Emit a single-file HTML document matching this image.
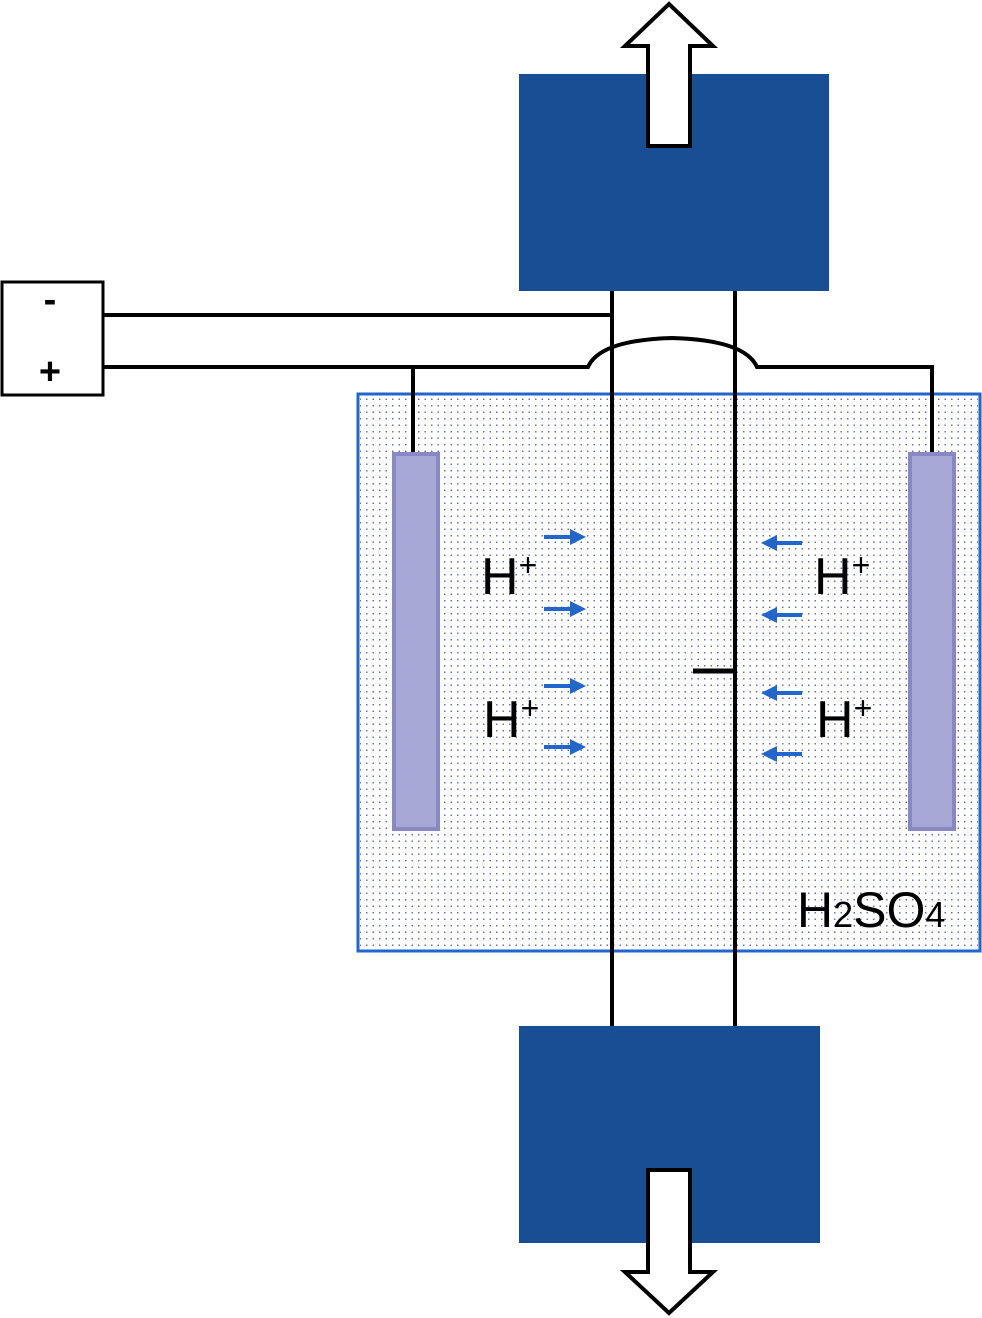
<!DOCTYPE html>
<html><head><meta charset="utf-8"><style>html,body{margin:0;padding:0;background:#fff}svg{display:block}</style></head>
<body>
<svg width="982" height="1318" viewBox="0 0 982 1318" xmlns="http://www.w3.org/2000/svg">
<defs>
<pattern id="dots" x="0" y="0" width="6.5" height="6.5" patternUnits="userSpaceOnUse">
<rect x="2" y="2" width="1.5" height="1.5" fill="#7070b8"/>
</pattern>
<marker id="ah" markerWidth="4" markerHeight="4" refX="2" refY="2" orient="auto" markerUnits="strokeWidth">
<path d="M0,0 L4,2 L0,4 Z" fill="#2266cc"/>
</marker>
</defs>
<rect x="358" y="394" width="622" height="557" fill="#fff" stroke="#2266cc" stroke-width="3"/>
<rect x="360" y="396" width="618" height="553" fill="url(#dots)"/>
<rect x="519" y="74" width="310" height="217" fill="#184e94"/>
<rect x="519" y="1026" width="301" height="217" fill="#184e94"/>
<path d="M648,146 L648,46 L625,46 L669,4 L713,46 L690,46 L690,146 Z" fill="#fff" stroke="#000" stroke-width="4"/>
<path d="M648,1170 L648,1272 L625,1272 L669,1313 L713,1272 L690,1272 L690,1170 Z" fill="#fff" stroke="#000" stroke-width="4"/>
<rect x="2" y="282" width="101" height="113" fill="#fff" stroke="#000" stroke-width="3"/>
<text x="50" y="312" font-family="Liberation Sans, sans-serif" font-size="38" font-weight="bold" text-anchor="middle">-</text>
<text x="50" y="384" font-family="Liberation Sans, sans-serif" font-size="38" font-weight="bold" text-anchor="middle">+</text>
<g stroke="#000" stroke-width="4" fill="none">
<path d="M103,315 L612,315"/>
<path d="M103,367 L588,367 Q600,340 672,338 Q745,340 757,367 L932,367 L932,455"/>
<path d="M413,367 L413,455"/>
<path d="M612,291 L612,1026"/>
<path d="M735,291 L735,1026"/>
<path d="M693,671 L735,671" stroke-width="5"/>
</g>
<rect x="394" y="454" width="44" height="375" fill="#a8a8d6" stroke="#8888c4" stroke-width="4"/>
<rect x="910" y="454" width="44" height="375" fill="#a8a8d6" stroke="#8888c4" stroke-width="4"/>
<g stroke="#2266cc" stroke-width="4" marker-end="url(#ah)">
<line x1="544" y1="537" x2="578" y2="537"/>
<line x1="544" y1="609" x2="578" y2="609"/>
<line x1="544" y1="686" x2="578" y2="686"/>
<line x1="544" y1="747" x2="578" y2="747"/>
<line x1="802" y1="543" x2="769" y2="543"/>
<line x1="802" y1="615" x2="769" y2="615"/>
<line x1="802" y1="693" x2="769" y2="693"/>
<line x1="802" y1="754" x2="769" y2="754"/>
</g>
<g font-family="Liberation Sans, sans-serif" fill="#000">
<text x="481" y="594" font-size="52">H<tspan font-size="32" dy="-18">+</tspan></text>
<text x="483" y="737" font-size="52">H<tspan font-size="32" dy="-18">+</tspan></text>
<text x="814" y="594" font-size="52">H<tspan font-size="32" dy="-18">+</tspan></text>
<text x="816" y="737" font-size="52">H<tspan font-size="32" dy="-18">+</tspan></text>
<text x="797" y="927" font-size="50">H<tspan font-size="36">2</tspan>SO<tspan font-size="36">4</tspan></text>
</g>
</svg>
</body></html>
